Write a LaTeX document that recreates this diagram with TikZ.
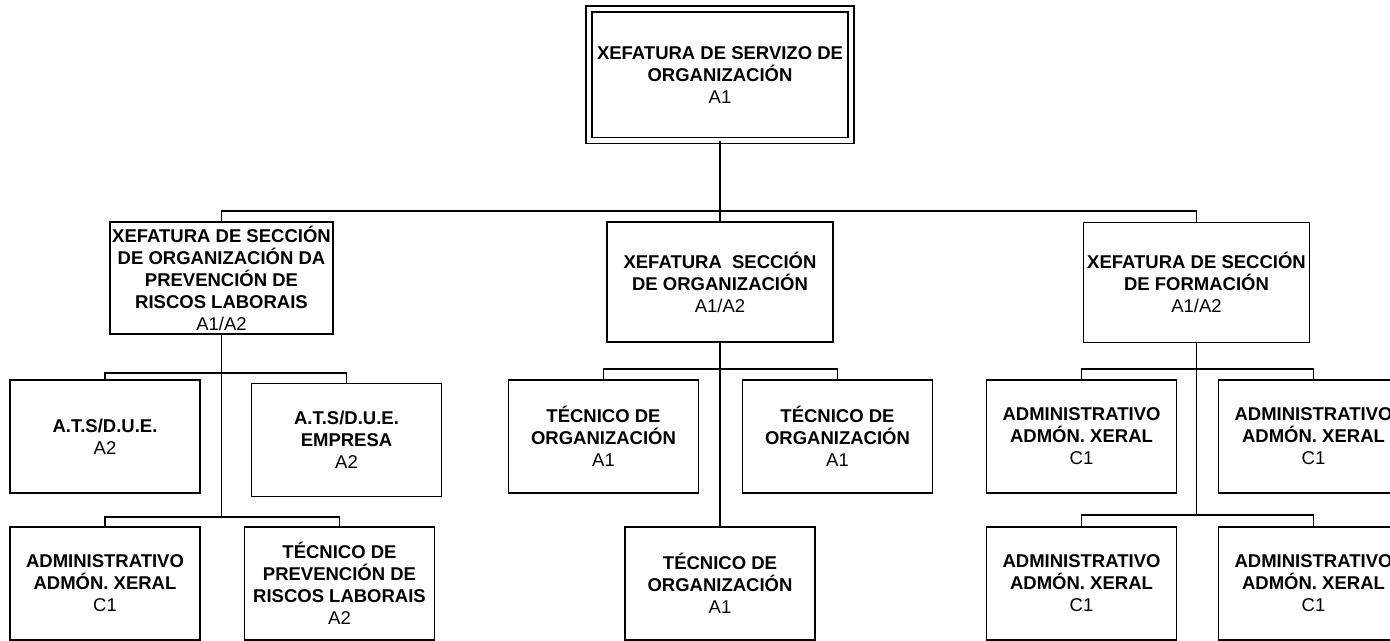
\documentclass[tikz,border=0pt]{standalone}
\usepackage{fontspec}
\setmainfont{Liberation Sans}
\begin{document}
\begin{tikzpicture}[x=0.5pt, y=-0.5pt, line width=0.9pt,
	post/.style={draw, rectangle, align=center, inner sep=0pt, minimum width=95pt, minimum height=56.5pt, font=\fontsize{9.25}{11}\selectfont\bfseries},
	section/.style={post, minimum width=113pt, minimum height=60pt},
	chief/.style={post, double, double distance=2.1pt, minimum width=131pt, minimum height=65.75pt}]

	\useasboundingbox (0,0) rectangle (1390,641);
	\clip (0,0) rectangle (1390,641);

	\node[chief] (top) at (720, 74.75) {XEFATURA DE SERVIZO DE\\ORGANIZACIÓN\\{\mdseries A1}};

	\node[section, minimum width=111.5pt, minimum height=56pt] (secL) at (221.5, 278) {XEFATURA DE SECCIÓN\\DE ORGANIZACIÓN DA\\PREVENCIÓN DE\\RISCOS LABORAIS\\{\mdseries A1/A2}};
	\node[section] (secM) at (720, 282) {XEFATURA\ \ SECCIÓN\\DE ORGANIZACIÓN\\{\mdseries A1/A2}};
	\node[section] (secR) at (1196.5, 282.5) {XEFATURA DE SECCIÓN\\DE FORMACIÓN\\{\mdseries A1/A2}};

	\node[post] (atsA) at (105, 436.5) {A.T.S/D.U.E.\\{\mdseries A2}};
	\node[post] (atsB) at (346.5, 440) {A.T.S/D.U.E.\\EMPRESA\\{\mdseries A2}};
	\node[post] (admL) at (105, 583.5) {ADMINISTRATIVO\\ADMÓN. XERAL\\{\mdseries C1}};
	\node[post] (tecP) at (339.5, 583.5) {TÉCNICO DE\\PREVENCIÓN DE\\RISCOS LABORAIS\\{\mdseries A2}};

	\node[post] (tecM1) at (603.5, 436.5) {TÉCNICO DE\\ORGANIZACIÓN\\{\mdseries A1}};
	\node[post] (tecM2) at (837.5, 436.5) {TÉCNICO DE\\ORGANIZACIÓN\\{\mdseries A1}};
	\node[post] (tecM3) at (720, 583.5) {TÉCNICO DE\\ORGANIZACIÓN\\{\mdseries A1}};

	\node[post] (admR1) at (1081.5, 436.5) {ADMINISTRATIVO\\ADMÓN. XERAL\\{\mdseries C1}};
	\node[post] (admR2) at (1313.5, 436.5) {ADMINISTRATIVO\\ADMÓN. XERAL\\{\mdseries C1}};
	\node[post] (admR3) at (1081.5, 583.5) {ADMINISTRATIVO\\ADMÓN. XERAL\\{\mdseries C1}};
	\node[post] (admR4) at (1313.5, 583.5) {ADMINISTRATIVO\\ADMÓN. XERAL\\{\mdseries C1}};

	% buses
	\coordinate (topbus) at (720, 211);
	\coordinate (lbus1) at (221.5, 373);
	\coordinate (lbus2) at (221.5, 517);
	\coordinate (mbus) at (720, 369);
	\coordinate (rbus1) at (1196.5, 369);
	\coordinate (rbus2) at (1196.5, 515);

	\draw (top.south) -- (topbus);
	\draw (secL.north) |- (topbus) -| (secR.north);
	\draw (topbus) -- (secM.north);

	\draw (secL.south) -- (lbus2);
	\draw (atsA.north) |- (lbus1) -| (atsB.north);
	\draw (admL.north) |- (lbus2) -| (tecP.north);

	\draw (secM.south) -- (tecM3.north);
	\draw (tecM1.north) |- (mbus) -| (tecM2.north);

	\draw (secR.south) -- (rbus2);
	\draw (admR1.north) |- (rbus1) -| (admR2.north);
	\draw (admR3.north) |- (rbus2) -| (admR4.north);
\end{tikzpicture}
\end{document}
